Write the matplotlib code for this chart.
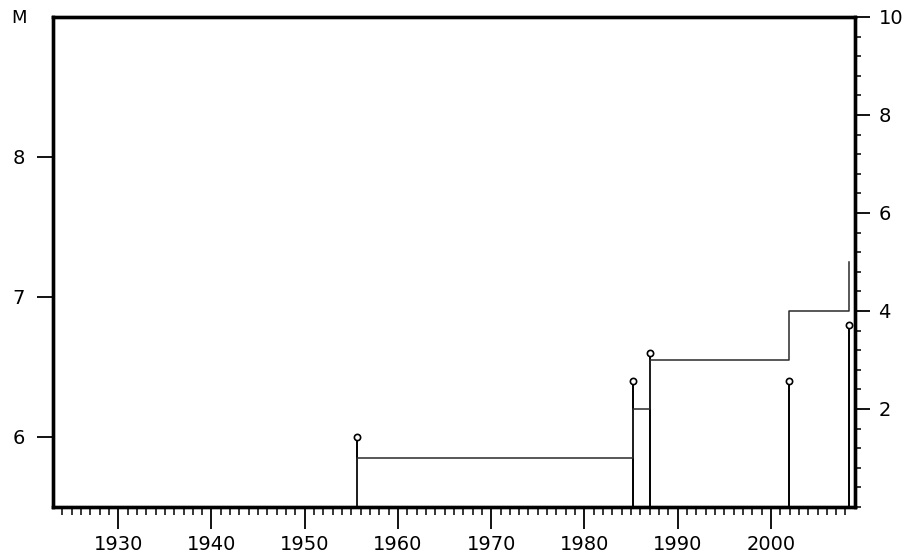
import numpy as np
import matplotlib
matplotlib.use("Agg")
from matplotlib import pyplot as plt
from matplotlib.ticker import MultipleLocator, FixedLocator

# events: year and magnitude
years = [1955.6, 1985.2, 1987.0, 2001.9, 2008.4]
mags = [6.0, 6.4, 6.6, 6.4, 6.8]
# cumulative number of events (right axis)
counts = [1, 2, 3, 4, 5]

x_min, x_max = 1923, 2009
m_min, m_max = 5.5, 9.0
m_ticks = [6, 7, 8]
n_ticks = [2, 4, 6, 8, 10]
year_ticks = list(range(1930, 2001, 10))

plt.rcParams['font.family'] = ['DejaVu Sans']

fig = plt.figure(figsize=(9.06, 5.57), dpi=100)
ax = fig.add_axes([0.0585, 0.0898, 0.885, 0.8797])
ax2 = ax.twinx()

# step line of cumulative count
step_x = [x_min] + years
step_y = [0] + counts
ax2.step(step_x, step_y, where='post', color='#2a2a2a', lw=1.1, zorder=1)

# stems with small open circles
ax.vlines(years, m_min, mags, color='black', lw=1.4, zorder=3)
ax.plot(years, mags, 'o', ms=4.5, mfc='white', mec='black', mew=1.2, zorder=4)

ax.set_xlim(x_min, x_max)
ax.set_ylim(m_min, m_max)
ax2.set_ylim(0, 10)

for a in (ax, ax2):
    for s in a.spines.values():
        s.set_linewidth(2.4)

ax.xaxis.set_major_locator(FixedLocator(year_ticks))
ax.xaxis.set_minor_locator(FixedLocator(list(range(1924, 2009))))
ax.tick_params(axis='x', which='major', length=16, width=1.3, labelsize=14, pad=4)
ax.tick_params(axis='x', which='minor', length=6, width=1.1)

ax.yaxis.set_major_locator(FixedLocator(m_ticks))
ax.tick_params(axis='y', which='major', length=11.5, width=1.3, labelsize=14, pad=9)

ax2.yaxis.set_major_locator(FixedLocator(n_ticks))
ax2.yaxis.set_minor_locator(MultipleLocator(0.4))
ax2.tick_params(axis='y', which='major', length=11, width=1.3, labelsize=14, pad=6)
ax2.tick_params(axis='y', which='minor', length=4.5, width=1.1)

fig.text(0.012, 0.968, 'M', fontsize=13, ha='left', va='center')

fig.savefig('out.png', dpi=100)
